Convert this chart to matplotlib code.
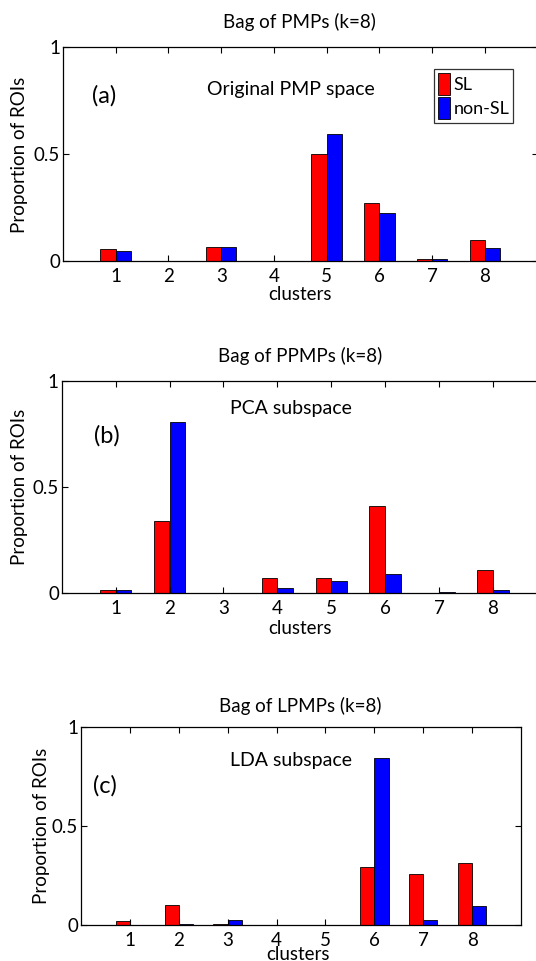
import numpy as np
import matplotlib
matplotlib.use("Agg")
import matplotlib.pyplot as plt

plt.rcParams['font.family'] = ['Lato', 'DejaVu Sans']

clusters = [1, 2, 3, 4, 5, 6, 7, 8]

# (a) original PMP space
sl_a = [0.056, 0.0, 0.065, 0.0, 0.498, 0.27, 0.011, 0.098]
non_a = [0.048, 0.0, 0.067, 0.0, 0.592, 0.225, 0.009, 0.062]
# (b) PCA subspace
sl_b = [0.014, 0.34, 0.0, 0.069, 0.069, 0.409, 0.0, 0.108]
non_b = [0.014, 0.807, 0.0, 0.022, 0.058, 0.09, 0.005, 0.014]
# (c) LDA subspace
sl_c = [0.023, 0.102, 0.005, 0.0, 0.0, 0.295, 0.26, 0.315]
non_c = [0.003, 0.007, 0.029, 0.0, 0.003, 0.842, 0.027, 0.097]

titles = ["Bag of PMPs (k=8)", "Bag of PPMPs (k=8)", "Bag of LPMPs (k=8)"]
inner = ["Original PMP space", "PCA subspace", "LDA subspace"]
letters = ["(a)", "(b)", "(c)"]

W, H = 536., 961.
fig = plt.figure(figsize=(W/100, H/100), dpi=100)

# pixel boxes: left, right, top, bottom
boxes = [(62.9, 537.7, 46.7, 261.3),
         (61.7, 546.8, 381.0, 593.0),
         (81.0, 521.0, 726.7, 925.3)]
letter_pos = [(0.78, 0.77), (0.83, 0.74), (0.49, 0.70)]
inner_pos = [(4.32, 0.80), (4.25, 0.87), (4.29, 0.83)]
title_px = [(299, 22), (300, 356), (300, 706)]
xlab_px = [(300, 295), (300, 628), (298, 955)]
ylab_px = [(20, 155), (20, 487), (42, 826)]

data = [(sl_a, non_a), (sl_b, non_b), (sl_c, non_c)]
x = np.array(clusters)
w = 0.29
fs = 13.5

for i in range(3):
    l, r, t, b = boxes[i]
    ax = fig.add_axes([l/W, 1-b/H, (r-l)/W, (b-t)/H])
    sl, non = data[i]
    ax.bar(x - w/2, sl, w, color='#ff0000', edgecolor='black', linewidth=0.6, label='SL')
    ax.bar(x + w/2, non, w, color='#0000ff', edgecolor='black', linewidth=0.6, label='non-SL')
    ax.set_xlim(0, 9)
    ax.set_ylim(0, 1)
    ax.set_xticks(clusters)
    ax.set_yticks([0, 0.5, 1])
    ax.set_yticklabels(['0', '0.5', '1'])
    ax.tick_params(direction='in', top=True, right=True, length=4, labelsize=fs)
    ax.tick_params(axis='x', pad=5)
    ax.tick_params(axis='y', pad=2)
    for s in ax.spines.values():
        s.set_linewidth(0.9)
    ax.text(letter_pos[i][0], letter_pos[i][1], letters[i], fontsize=17, ha='center', va='center')
    ax.text(inner_pos[i][0], inner_pos[i][1], inner[i], fontsize=14, ha='center', va='center')
    if i == 0:
        leg = ax.legend(loc='upper left', bbox_to_anchor=((434-l)/(r-l), 1-(69-t)/(b-t)),
                        fontsize=13, frameon=True, fancybox=False, handlelength=0.7,
                        handleheight=1.5, handletextpad=0.2, borderpad=0.2,
                        labelspacing=0.15, borderaxespad=0)
        leg.get_frame().set_edgecolor('black')
        leg.get_frame().set_linewidth(0.9)
    fig.text(title_px[i][0]/W, 1-title_px[i][1]/H, titles[i], fontsize=fs, ha='center', va='center')
    fig.text(xlab_px[i][0]/W, 1-xlab_px[i][1]/H, "clusters", fontsize=fs, ha='center', va='center')
    fig.text(ylab_px[i][0]/W, 1-ylab_px[i][1]/H, "Proportion of ROIs", fontsize=fs,
             ha='center', va='center', rotation=90)

fig.savefig("out.png", dpi=100)
